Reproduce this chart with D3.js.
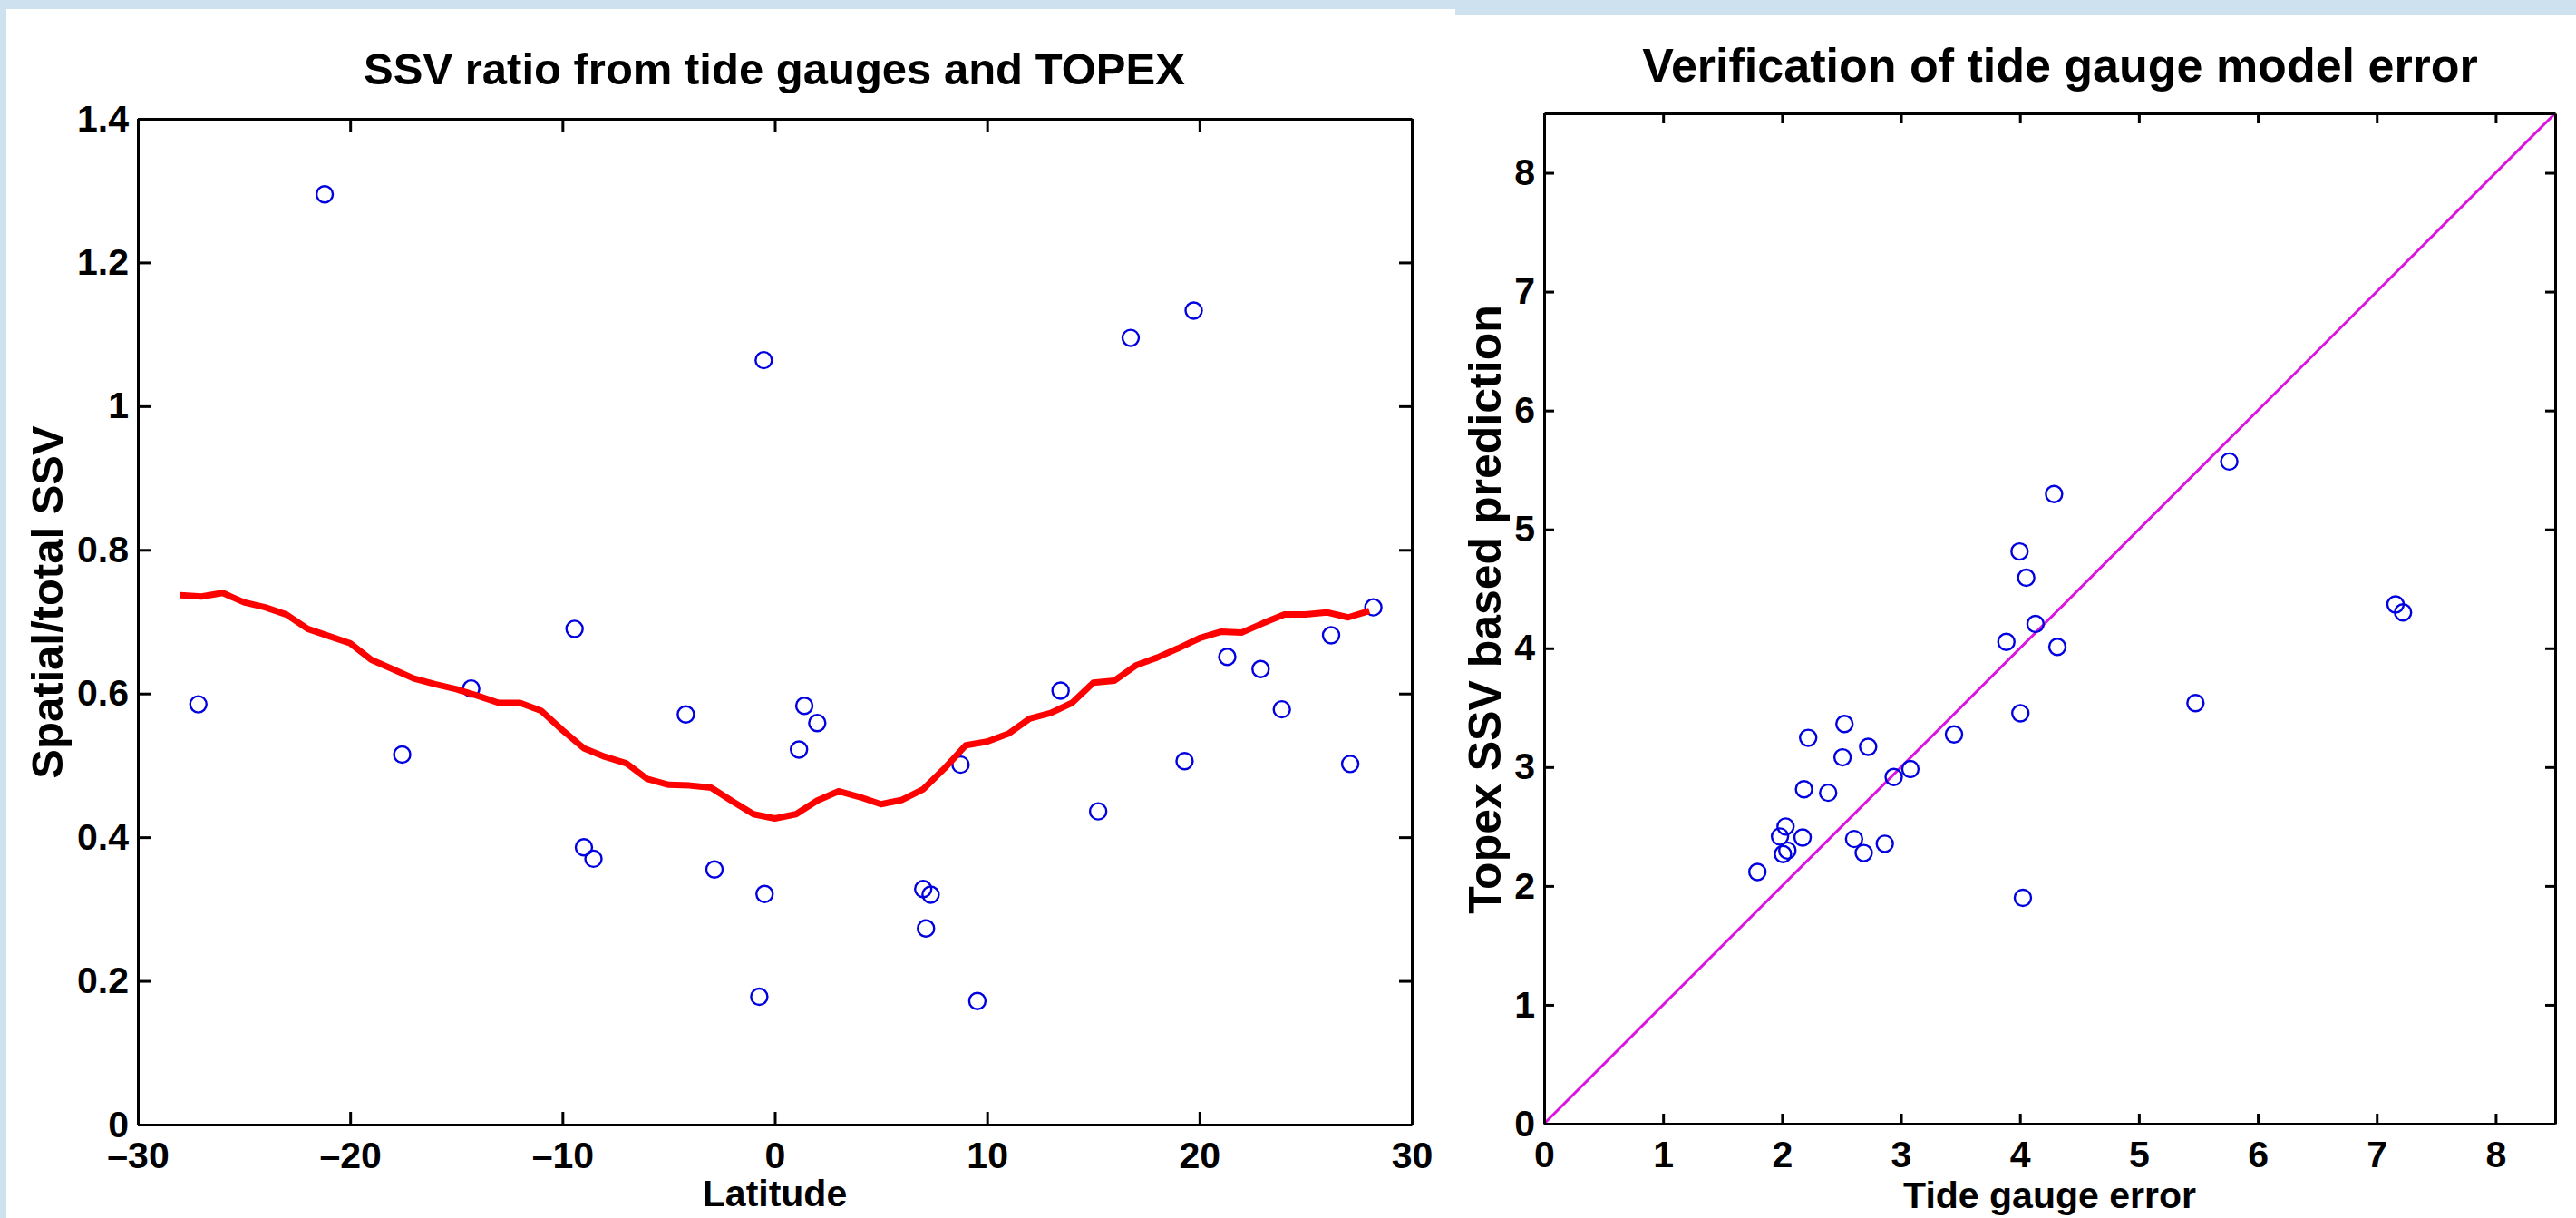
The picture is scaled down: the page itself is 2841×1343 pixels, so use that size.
<!DOCTYPE html>
<html>
<head>
<meta charset="utf-8">
<script src="https://cdn.jsdelivr.net/npm/d3@7"></script>
<style>
  body { margin: 0; background: #cee1ef; }
  svg { display: block; }
  text { font-family: "Liberation Sans", Arial, Helvetica, sans-serif; font-weight: bold; fill: #000; }
</style>
</head>
<body>
<svg id="chart"></svg>
<script>
// Left panel data: tide gauge points and TOPEX curve

const gaugeLat = [-27.15, -21.2, -17.55, -14.3, -9.43, -8.99, -8.54, -4.19, -2.84, -0.73, -0.52, -0.48,
  1.14, 1.39, 2.0, 6.99, 7.12, 7.34, 8.75, 9.54, 13.46, 15.23, 16.76, 19.3, 19.73, 21.31, 22.88,
  23.88, 26.2, 27.1, 28.19];
const gaugeRatio = [0.585, 1.295, 0.515, 0.607, 0.69, 0.386, 0.37, 0.571, 0.355, 0.178, 1.064, 0.321,
  0.522, 0.583, 0.559, 0.328, 0.273, 0.32, 0.501, 0.172, 0.604, 0.436, 1.095, 0.506, 1.133, 0.651, 0.634,
  0.578, 0.681, 0.502, 0.72];

const topexLat = [-28, -27, -26, -25, -24, -23, -22, -21, -20, -19, -18, -17, -16, -15, -14, -13, -12,
  -11, -10, -9, -8, -7, -6, -5, -4, -3, -2, -1, 0, 1, 2, 3, 4, 5, 6, 7, 8, 9, 10, 11, 12, 13, 14, 15,
  16, 17, 18, 19, 20, 21, 22, 23, 24, 25, 26, 27, 28];
const topexRatio = [0.737, 0.735, 0.74, 0.727, 0.72, 0.71, 0.69, 0.68, 0.67, 0.647, 0.634, 0.621, 0.613,
  0.606, 0.597, 0.587, 0.587, 0.576, 0.549, 0.524, 0.512, 0.503, 0.481, 0.473, 0.472, 0.469, 0.45, 0.432,
  0.426, 0.432, 0.451, 0.464, 0.456, 0.446, 0.452, 0.467, 0.496, 0.528, 0.533, 0.544, 0.565, 0.573, 0.587,
  0.615, 0.618, 0.639, 0.65, 0.663, 0.677, 0.686, 0.685, 0.698, 0.71, 0.71, 0.713, 0.706, 0.715];

const latTicks = [-30, -20, -10, 0, 10, 20, 30];
const latTickLabels = ["\u201330", "\u201320", "\u201310", "0", "10", "20", "30"];
const ratioTicks = [0, 0.2, 0.4, 0.6, 0.8, 1, 1.2, 1.4];
const ratioTickLabels = ["0", "0.2", "0.4", "0.6", "0.8", "1", "1.2", "1.4"];

// Right panel data: model error vs prediction

const gaugeError = [5.76, 4.287, 3.997, 4.053, 4.131, 3.886, 4.315, 5.476, 4.004, 3.446, 2.525, 2.22,
  2.724, 2.509, 3.079, 2.939, 2.185, 2.388, 2.03, 1.983, 2.173, 2.606, 2.864, 2.045, 2.008, 2.687,
  1.793, 4.025, 7.158, 7.221];
const topexPrediction = [5.571, 5.297, 4.814, 4.593, 4.204, 4.054, 4.011, 3.538, 3.453, 3.275, 3.363,
  3.246, 3.17, 3.082, 2.983, 2.917, 2.814, 2.784, 2.5, 2.416, 2.407, 2.395, 2.355, 2.298, 2.268, 2.277,
  2.117, 1.9, 4.368, 4.302];
const oneToOne = [0, 8.5];

const errTicks = [0, 1, 2, 3, 4, 5, 6, 7, 8];
const errTickLabels = ["0", "1", "2", "3", "4", "5", "6", "7", "8"];

const width = 2841;
const height = 1343;

const svg = d3.select("#chart").attr("width", width).attr("height", height);

svg.append("rect").attr("width", width).attr("height", height).attr("fill", "#cee1ef");
svg.append("rect").attr("x", 7).attr("y", 10).attr("width", 1598).attr("height", height - 10).attr("fill", "#fff");
svg.append("rect").attr("x", 1605).attr("y", 17).attr("width", width - 1605).attr("height", height - 17).attr("fill", "#fff");

function drawFrame(g, x, y, opts) {
  const tick = opts.tickLen;
  const [x0, x1] = x.range();
  const [y0, y1] = y.range();

  const bottom = g.append("g")
    .attr("transform", `translate(0,${y0})`)
    .call(d3.axisBottom(x).tickValues(opts.xTicks).tickFormat((d, i) => opts.xLabels[i])
      .tickSizeInner(-tick).tickSizeOuter(0).tickPadding(opts.xPad));
  const left = g.append("g")
    .attr("transform", `translate(${x0},0)`)
    .call(d3.axisLeft(y).tickValues(opts.yTicks).tickFormat((d, i) => opts.yLabels[i])
      .tickSizeInner(-tick).tickSizeOuter(0).tickPadding(opts.yPad));
  const top = g.append("g")
    .attr("transform", `translate(0,${y1})`)
    .call(d3.axisTop(x).tickValues(opts.xTicks).tickFormat("").tickSizeInner(-tick).tickSizeOuter(0));
  const right = g.append("g")
    .attr("transform", `translate(${x1},0)`)
    .call(d3.axisRight(y).tickValues(opts.yTicks).tickFormat("").tickSizeInner(-tick).tickSizeOuter(0));

  [bottom, left, top, right].forEach((a) => {
    a.select(".domain").attr("stroke", "#000").attr("stroke-width", 3);
    a.selectAll(".tick line").attr("stroke", "#000").attr("stroke-width", 3);
    a.selectAll(".tick text").attr("font-size", opts.tickFont).attr("font-family", null).attr("fill", "#000");
  });

  // titles and labels
  g.append("text")
    .attr("x", opts.titleX)
    .attr("y", opts.titleY)
    .attr("text-anchor", "middle")
    .attr("font-size", opts.titleFont)
    .text(opts.title);

  g.append("text")
    .attr("x", (x0 + x1) / 2)
    .attr("y", opts.xLabelY)
    .attr("text-anchor", "middle")
    .attr("font-size", opts.labelFont)
    .text(opts.xLabel);

  g.append("text")
    .attr("transform", `translate(${opts.yLabelX},${opts.yLabelMid}) rotate(-90)`)
    .attr("text-anchor", "middle")
    .attr("font-size", opts.yLabelFont)
    .text(opts.yLabel);
}

// Left panel

const xLat = d3.scaleLinear().domain([-30, 30]).range([152, 1557]);
const yRatio = d3.scaleLinear().domain([0, 1.4]).range([1240, 131]);
const gLeft = svg.append("g");

gLeft.selectAll(".gauge")
  .data(gaugeLat)
  .enter()
  .append("circle")
  .attr("cx", (d) => xLat(d))
  .attr("cy", (d, i) => yRatio(gaugeRatio[i]))
  .attr("r", 9)
  .attr("fill", "none")
  .attr("stroke", "#0000e0")
  .attr("stroke-width", 2.4);

gLeft.append("path")
  .datum(topexLat)
  .attr("d", d3.line().x((d) => xLat(d)).y((d, i) => yRatio(topexRatio[i])))
  .attr("fill", "none")
  .attr("stroke", "#ff0000")
  .attr("stroke-width", 7)
  .attr("stroke-linejoin", "round");

drawFrame(gLeft, xLat, yRatio, {
  tickLen: 14,
  xTicks: latTicks,
  xLabels: latTickLabels,
  yTicks: ratioTicks,
  yLabels: ratioTickLabels,
  xPad: 19,
  yPad: 10,
  tickFont: 41,
  title: "SSV ratio from tide gauges and TOPEX",
  titleX: 854,
  titleY: 93,
  titleFont: 49,
  xLabel: "Latitude",
  xLabelY: 1330,
  yLabel: "Spatial/total SSV",
  yLabelX: 69,
  yLabelMid: 664,
  yLabelFont: 49,
  labelFont: 41,
});

// Right panel

const xErr = d3.scaleLinear().domain([0, 8.5]).range([1703, 2818]);
const yPred = d3.scaleLinear().domain([0, 8.5]).range([1239, 125]);
const gRight = svg.append("g");

gRight.append("path")
  .datum(oneToOne)
  .attr("d", d3.line().x((d) => xErr(d)).y((d) => yPred(d)))
  .attr("stroke", "#dc14e0")
  .attr("stroke-width", 3);

gRight.selectAll(".pred")
  .data(gaugeError)
  .enter()
  .append("circle")
  .attr("cx", (d) => xErr(d))
  .attr("cy", (d, i) => yPred(topexPrediction[i]))
  .attr("r", 9)
  .attr("fill", "none")
  .attr("stroke", "#0000e0")
  .attr("stroke-width", 2.4);

drawFrame(gRight, xErr, yPred, {
  tickLen: 11,
  xTicks: errTicks,
  xLabels: errTickLabels,
  yTicks: errTicks,
  yLabels: errTickLabels,
  xPad: 19,
  yPad: 10,
  tickFont: 41,
  title: "Verification of tide gauge model error",
  titleX: 2272,
  titleY: 90,
  titleFont: 52,
  xLabel: "Tide gauge error",
  xLabelY: 1332,
  yLabel: "Topex SSV based prediction",
  yLabelX: 1655,
  yLabelMid: 672,
  yLabelFont: 50,
  labelFont: 41,
});
</script>
</body>
</html>
